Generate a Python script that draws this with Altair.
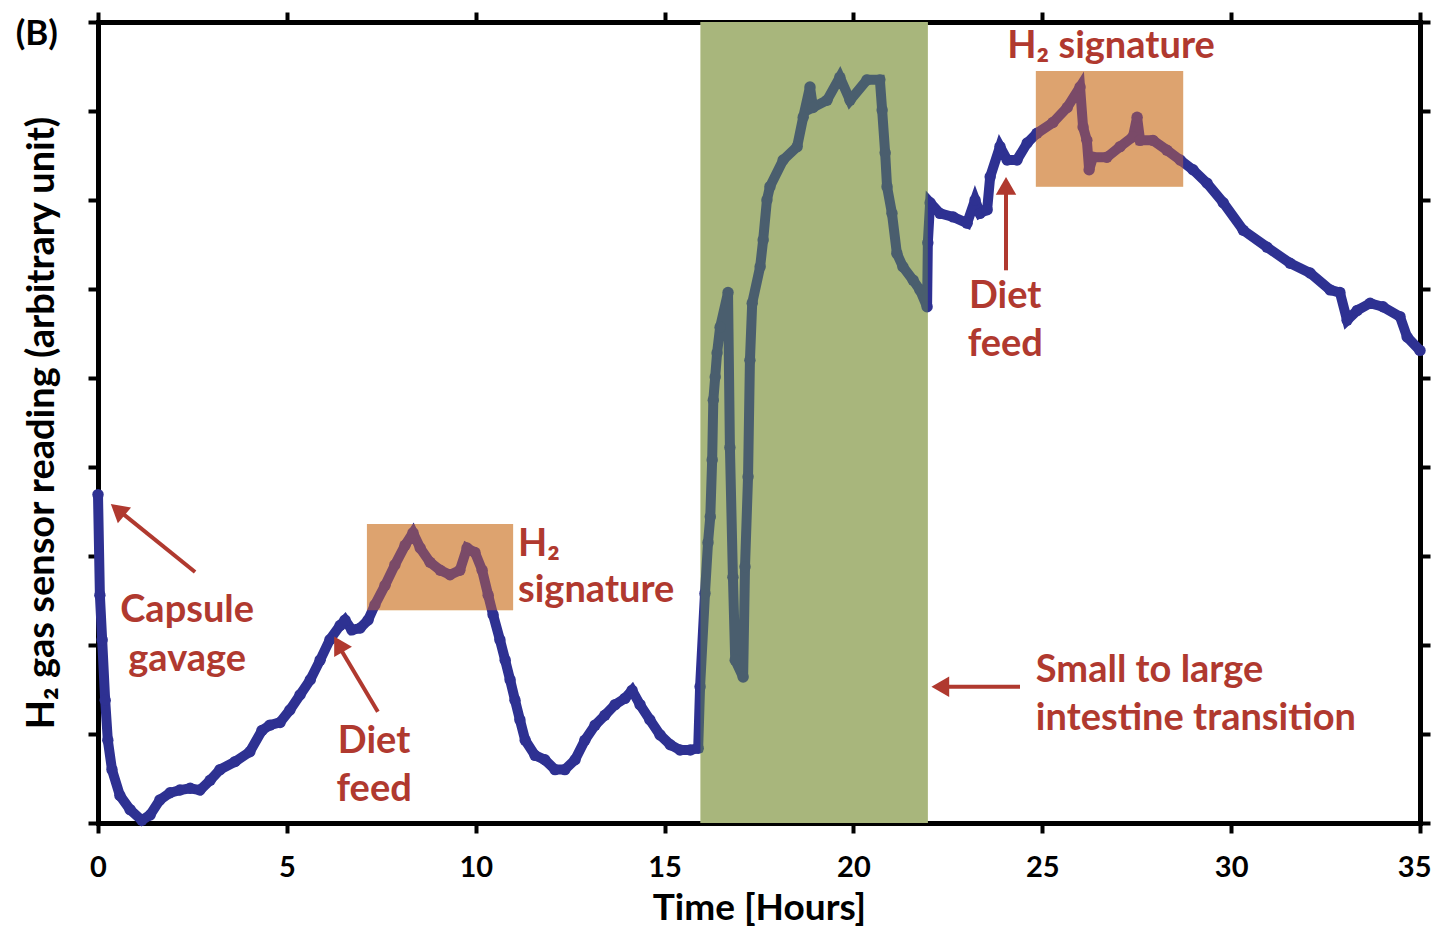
import altair as alt
import pandas as pd

# ---- data ----
time_h = [0.00, 0.05, 0.11, 0.19, 0.26, 0.37, 0.58, 0.85, 1.16, 1.38, 1.64, 1.91, 2.17, 2.44, 2.70,
          2.97, 3.23, 3.63, 4.02, 4.34, 4.55, 4.82, 5.08, 5.35, 5.62, 5.88, 6.14, 6.41, 6.54, 6.72,
          6.94, 7.15, 7.33, 7.60, 7.86, 8.13, 8.34, 8.53, 8.79, 9.06, 9.32, 9.58, 9.77, 9.98, 10.17,
          10.33, 10.46, 10.64, 10.78, 10.91, 11.04, 11.17, 11.31, 11.57, 11.83, 12.10, 12.36, 12.63,
          12.89, 13.16, 13.42, 13.69, 13.95, 14.14, 14.35, 14.61, 14.88, 15.15, 15.41, 15.68, 15.89,
          15.94, 16.07, 16.15, 16.21, 16.26, 16.29, 16.34, 16.39, 16.47, 16.68, 16.73, 16.81, 16.87,
          17.08, 17.13, 17.21, 17.26, 17.32, 17.53, 17.61, 17.71, 17.79, 18.14, 18.51, 18.67, 18.85,
          18.93, 19.30, 19.64, 19.91, 20.36, 20.70, 20.76, 20.84, 20.89, 21.02, 21.15, 21.31, 21.58,
          21.76, 21.95, 21.97, 22.03, 22.29, 22.64, 23.01, 23.22, 23.35, 23.54, 23.62, 23.88, 24.07,
          24.33, 24.60, 24.86, 25.28, 25.66, 26.00, 26.08, 26.18, 26.24, 26.34, 26.71, 27.06, 27.40,
          27.51, 27.59, 27.93, 28.30, 28.65, 28.99, 29.36, 29.79, 30.32, 30.95, 31.56, 32.09, 32.62,
          32.88, 33.07, 33.34, 33.68, 34.02, 34.47, 34.66, 35.00]
h2_reading = [3.69, 2.56, 2.06, 1.38, 0.93, 0.60, 0.31, 0.15, 0.03, 0.09, 0.26, 0.34, 0.37, 0.39, 0.37,
              0.48, 0.60, 0.69, 0.80, 1.04, 1.10, 1.13, 1.27, 1.44, 1.61, 1.83, 2.06, 2.22, 2.28, 2.17,
              2.19, 2.28, 2.45, 2.67, 2.90, 3.12, 3.26, 3.09, 2.93, 2.84, 2.79, 2.84, 3.09, 3.04, 2.84,
              2.56, 2.34, 2.06, 1.83, 1.61, 1.38, 1.16, 0.93, 0.76, 0.71, 0.60, 0.60, 0.71,
              0.93, 1.10, 1.21, 1.33, 1.40, 1.49, 1.33, 1.16, 0.99, 0.88, 0.82, 0.82, 0.84,
              1.53, 2.58, 3.15, 3.44, 4.08, 4.75, 5.01, 5.28, 5.57, 5.96, 4.22, 2.76, 1.83,
              1.64, 2.88, 3.89, 5.20, 5.84, 6.25, 6.55, 7.00, 7.15, 7.45, 7.60, 7.93, 8.27,
              8.04, 8.12, 8.38, 8.12, 8.35, 8.35, 8.01, 7.53, 7.15, 6.85, 6.40, 6.25, 6.10,
              5.99, 5.80, 6.52, 6.97, 6.85, 6.81, 6.74, 7.00, 6.85, 6.89, 7.26, 7.60, 7.45,
              7.45, 7.64, 7.75, 7.87, 8.04, 8.27, 7.82, 7.67, 7.34, 7.48, 7.48, 7.60, 7.71,
              7.93, 7.67, 7.67, 7.56, 7.45, 7.34, 7.19, 6.97, 6.66, 6.47, 6.29, 6.18, 5.99,
              5.96, 5.65, 5.76, 5.84, 5.80, 5.69, 5.46, 5.31]

# shaded regions (green: small-to-large intestine transition; orange: H2 signatures)
region_x = [15.95, 7.12, 24.83]
region_x2 = [21.97, 10.99, 28.73]
region_y = [0.0, 2.39, 7.15]
region_y2 = [9.0, 3.36, 8.45]
region_under = ["#EAE1AE", "#F4E3A0", "#F4E3A0"]
region_over = ["#668B4A", "#C6633E", "#C6633E"]

# annotation texts
center_text = ["Capsule", "gavage", "Diet", "feed", "Diet", "feed", "H\u2082 signature"]
center_x = [2.36, 2.36, 7.31, 7.31, 24.02, 24.02, 26.82]
center_y = [2.38, 1.83, 0.91, 0.37, 5.91, 5.37, 8.72]
left_text = ["H\u2082", "signature", "Small to large", "intestine transition"]
left_x = [11.12, 11.12, 24.83, 24.83]
left_y = [3.12, 2.61, 1.71, 1.17]

# arrows
arrow_x = [2.57, 7.41, 24.04, 24.41]
arrow_y = [2.82, 1.25, 6.21, 1.53]
arrow_x2 = [0.50, 6.33, 24.04, 22.20]
arrow_y2 = [3.53, 2.02, 7.20, 1.53]
head_x = [0.52, 6.37, 24.04, 22.30]
head_y = [3.52, 2.01, 7.16, 1.53]
head_angle = [310, 330, 0, 270]

x_ticks = [0, 5, 10, 15, 20, 25, 30, 35]
y_ticks = [0, 1, 2, 3, 4, 5, 6, 7, 8, 9]

RED = "#B0392F"
BLUE = "#2E3192"
FONT = "Lato"
ANN = 38

series = pd.DataFrame({"t": time_h, "v": h2_reading})
regions = pd.DataFrame({"x": region_x, "x2": region_x2, "y": region_y, "y2": region_y2,
                        "under": region_under, "over": region_over})
ctext = pd.DataFrame({"x": center_x, "y": center_y, "text": center_text})
ltext = pd.DataFrame({"x": left_x, "y": left_y, "text": left_text})
arrows = pd.DataFrame({"x": arrow_x, "y": arrow_y, "x2": arrow_x2, "y2": arrow_y2})
heads = pd.DataFrame({"x": head_x, "y": head_y, "a": head_angle})
label_b = pd.DataFrame({"x": [-1.62], "y": [8.86], "text": ["(B)"]})

xscale = alt.Scale(domain=[0, 35], nice=False, zero=False)
yscale = alt.Scale(domain=[0, 9], nice=False, zero=False)

rects_under = alt.Chart(regions).mark_rect().encode(
    x=alt.X("x:Q", scale=xscale, axis=None), x2="x2:Q",
    y=alt.Y("y:Q", scale=yscale, axis=None), y2="y2:Q",
    color=alt.Color("under:N", scale=None),
)
line = alt.Chart(series).mark_line(color=BLUE, strokeWidth=10).encode(
    x=alt.X("t:Q", scale=xscale,
            axis=alt.Axis(orient="bottom", values=x_ticks, title="Time [Hours]", format="d",
                          labelFontSize=29, labelFontWeight="bold", labelPadding=20, labelFlush=False,
                          labelAlign={"condition": {"test": "datum.value == 35", "value": "right"},
                                      "value": "center"},
                          labelOffset={"condition": {"test": "datum.value == 35", "value": 11},
                                       "value": 0},
                          titleFontSize=37, titleFontWeight="bold", titlePadding=8)),
    y=alt.Y("v:Q", scale=yscale,
            axis=alt.Axis(orient="left", values=y_ticks, labels=False,
                          title="H\u2082 gas sensor reading (arbitrary unit)",
                          titleFontSize=38, titleFontWeight="bold", titlePadding=25)),
)
pts = alt.Chart(series).mark_circle(color=BLUE, size=130, opacity=1).encode(
    x=alt.X("t:Q", scale=xscale, axis=None),
    y=alt.Y("v:Q", scale=yscale, axis=None),
)
rects_over = alt.Chart(regions).mark_rect(opacity=0.5).encode(
    x=alt.X("x:Q", scale=xscale,
            axis=alt.Axis(orient="top", values=x_ticks, labels=False, title=None)),
    x2="x2:Q",
    y=alt.Y("y:Q", scale=yscale,
            axis=alt.Axis(orient="right", values=y_ticks, labels=False, title=None)),
    y2="y2:Q",
    color=alt.Color("over:N", scale=None),
)
ctexts = alt.Chart(ctext).mark_text(font=FONT, fontSize=ANN, fontWeight="bold", color=RED,
                                    align="center", baseline="middle").encode(
    x=alt.X("x:Q", scale=xscale, axis=None), y=alt.Y("y:Q", scale=yscale, axis=None), text="text:N")
ltexts = alt.Chart(ltext).mark_text(font=FONT, fontSize=ANN, fontWeight="bold", color=RED,
                                    align="left", baseline="middle").encode(
    x=alt.X("x:Q", scale=xscale, axis=None), y=alt.Y("y:Q", scale=yscale, axis=None), text="text:N")
shafts = alt.Chart(arrows).mark_rule(color=RED, strokeWidth=4).encode(
    x=alt.X("x:Q", scale=xscale, axis=None), y=alt.Y("y:Q", scale=yscale, axis=None),
    x2="x2:Q", y2="y2:Q")
arrowheads = alt.Chart(heads).mark_point(shape="triangle-up", filled=True, color=RED, size=420,
                                         opacity=1).encode(
    x=alt.X("x:Q", scale=xscale, axis=None), y=alt.Y("y:Q", scale=yscale, axis=None),
    angle=alt.Angle("a:Q", scale=None))
btext = alt.Chart(label_b).mark_text(font=FONT, fontSize=35, fontWeight="bold", color="black",
                                     align="center", baseline="middle").encode(
    x=alt.X("x:Q", scale=xscale, axis=None), y=alt.Y("y:Q", scale=yscale, axis=None), text="text:N")

chart = alt.layer(rects_under, line, pts, rects_over, ctexts, ltexts, shafts, arrowheads,
                  btext).resolve_axis(
    x="independent", y="independent"
).properties(
    width=1322, height=801,
    autosize=alt.AutoSizeParams(type="none"),
    padding={"left": 90, "top": 14, "right": 12, "bottom": 108},
).configure_axis(
    domainColor="black", domainWidth=5, domainCap="square", tickColor="black", tickWidth=4,
    tickSize=10, grid=False, labelColor="black", titleColor="black",
    labelFont=FONT, titleFont=FONT,
).configure_view(stroke=None)

chart.save("out.html", embed_options={"renderer": "svg", "actions": False})
